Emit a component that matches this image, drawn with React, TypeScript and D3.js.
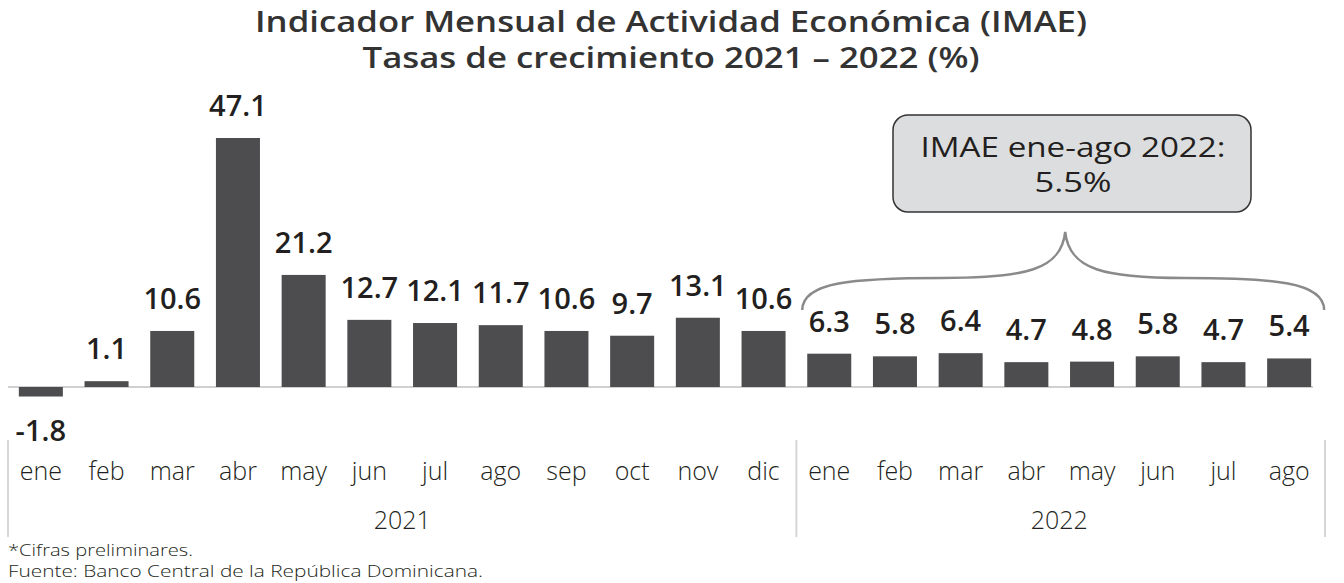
import React from "react";
import * as d3 from "d3";

const months = ["ene","feb","mar","abr","may","jun","jul","ago","sep","oct","nov","dic","ene","feb","mar","abr","may","jun","jul","ago"];
const years = ["2021","2022"];
const yearCounts = [12, 8];
const values = [-1.8,1.1,10.6,47.1,21.2,12.7,12.1,11.7,10.6,9.7,13.1,10.6,6.3,5.8,6.4,4.7,4.8,5.8,4.7,5.4];
const titleLines = ["Indicador Mensual de Actividad Económica (IMAE)","Tasas de crecimiento 2021 – 2022 (%)"];
const calloutLines = ["IMAE ene-ago 2022:","5.5%"];
const notes = ["*Cifras preliminares.","Fuente: Banco Central de la República Dominicana."];

const W = 1344, H = 583;
const FONT = "'Open Sans', 'Noto Sans', sans-serif";

export default function App() {
  const idx = values.map((_, i) => String(i));
  const x = d3.scaleBand<string>().domain(idx).range([8, 1322]).paddingInner(0.33).paddingOuter(0.165);
  const y = d3.scaleLinear().domain([0, 47.1]).range([387, 138]);
  const bw = x.bandwidth();
  const step = x.step();

  const groups: { name: string; start: number; end: number }[] = [];
  let acc = 0;
  yearCounts.forEach((c, gi) => {
    groups.push({ name: years[gi], start: acc, end: acc + c - 1 });
    acc += c;
  });
  const sepX = (i: number) => (x(String(i)) as number) - (step - bw) / 2;
  const sepXs = [8, sepX(12), 1325];

  const g2 = groups[1];
  const bx0 = (x(String(g2.start)) as number) - 5;
  const bx1 = (x(String(g2.end)) as number) + bw + 13;
  const bm = (bx0 + bx1) / 2 + 2;
  const yEnd = 310, yFlat = 278, yPeak = 232;
  const bracePath = `M${bx0},${yEnd} C${bx0},${yFlat + 4} ${bx0 + 50},${yFlat} ${bx0 + 140},${yFlat}
    C${bm - 40},${yFlat} ${bm - 4},${yFlat - 8} ${bm},${yPeak}
    C${bm + 4},${yFlat - 8} ${bm + 40},${yFlat} ${bx1 - 140},${yFlat}
    C${bx1 - 50},${yFlat} ${bx1},${yFlat + 4} ${bx1},${yEnd}`;

  const titleW = [832, 617];
  const calloutW = [305, 77];
  const notesW = [185, 475];

  return (
    <svg width={W} height={H} style={{ position: "absolute", left: 0, top: 0, background: "#fff" }} fontFamily={FONT}>
      {titleLines.map((t, i) => (
        <text key={i} x={671} y={32 + i * 36} textAnchor="middle" fontSize={29} fontWeight={600} fill="#333"
          textLength={titleW[i]} lengthAdjust="spacingAndGlyphs">{t}</text>
      ))}

      <line x1={8} x2={1313} y1={y(0)} y2={y(0)} stroke="#d0d0d0" strokeWidth={2} />

      {values.map((v, i) => (
        <rect key={i} x={x(String(i))} y={Math.min(y(v), y(0))} width={bw} height={Math.abs(y(v) - y(0))} fill="#4d4d4f" />
      ))}

      {values.map((v, i) => (
        <text key={i} x={(x(String(i)) as number) + bw / 2} y={v >= 0 ? y(v) - 22 : y(0) + 54}
          textAnchor="middle" fontSize={29} fontWeight={600} fill="#231f20">{v.toFixed(1)}</text>
      ))}

      {months.map((m, i) => (
        <text key={i} x={(x(String(i)) as number) + bw / 2} y={480} textAnchor="middle" fontSize={25} fontWeight={300} fill="#231f20">{m}</text>
      ))}

      {groups.map((g, i) => (
        <text key={i} x={((x(String(g.start)) as number) + (x(String(g.end)) as number) + bw) / 2} y={529}
          textAnchor="middle" fontSize={25} fontWeight={300} fill="#231f20">{g.name}</text>
      ))}

      {sepXs.map((sx, i) => (
        <line key={i} x1={sx} x2={sx} y1={440} y2={537} stroke="#d6d6d6" strokeWidth={2} />
      ))}

      <path d={bracePath} fill="none" stroke="#8a8a8a" strokeWidth={2.5} />

      <rect x={893} y={115} width={358} height={97} rx={15} ry={15} fill="#dcdddf" stroke="#333" strokeWidth={1.5} />
      {calloutLines.map((t, i) => (
        <text key={i} x={1073} y={157 + i * 35} textAnchor="middle" fontSize={27} fontWeight={400} fill="#231f20"
          textLength={calloutW[i]} lengthAdjust="spacingAndGlyphs">{t}</text>
      ))}

      {notes.map((t, i) => (
        <text key={i} x={8} y={556 + i * 21} fontSize={17} fontWeight={300} fill="#231f20"
          textLength={notesW[i]} lengthAdjust="spacingAndGlyphs">{t}</text>
      ))}
    </svg>
  );
}
